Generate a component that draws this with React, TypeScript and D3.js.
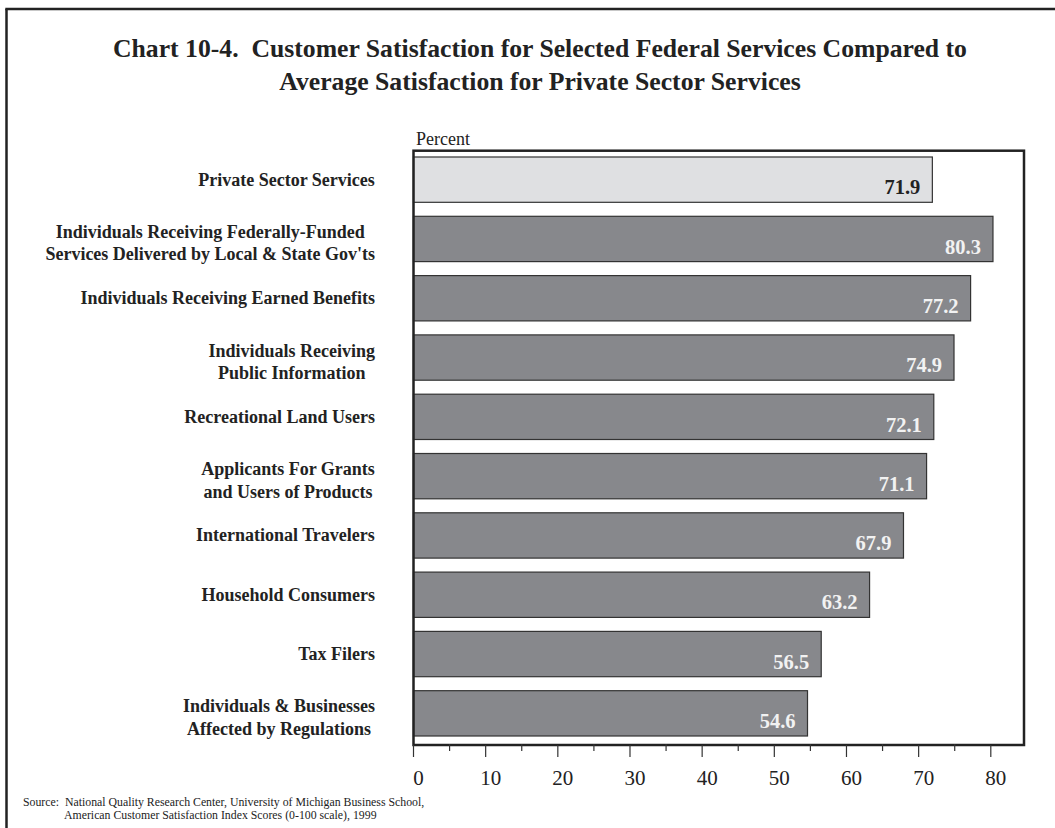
import React from "react";
import * as d3 from "d3";

const categories: string[][] = [
  ["Private Sector Services"],
  ["Individuals Receiving Federally-Funded", "Services Delivered by Local & State Gov'ts"],
  ["Individuals Receiving Earned Benefits"],
  ["Individuals Receiving", "Public Information"],
  ["Recreational Land Users"],
  ["Applicants For Grants", "and Users of Products"],
  ["International Travelers"],
  ["Household Consumers"],
  ["Tax Filers"],
  ["Individuals & Businesses", "Affected by Regulations"],
];
const values: number[] = [71.9, 80.3, 77.2, 74.9, 72.1, 71.1, 67.9, 63.2, 56.5, 54.6];
const highlight: boolean[] = [true, false, false, false, false, false, false, false, false, false];
const majorTicks: number[] = [0, 10, 20, 30, 40, 50, 60, 70, 80];
const minorTicks: number[] = [5, 15, 25, 35, 45, 55, 65, 75];
const titleLines: string[] = [
  "Chart 10-4.  Customer Satisfaction for Selected Federal Services Compared to",
  "Average Satisfaction for Private Sector Services",
];
const sourceLines: string[] = [
  "Source:  National Quality Research Center, University of Michigan Business School,",
  "American Customer Satisfaction Index Scores (0-100 scale), 1999",
];
const axisTitle = "Percent";

const W = 1055;
const H = 828;
const FONT = "'Liberation Serif', 'Times New Roman', serif";
const LABEL_SIZE = 18;

let ctx: CanvasRenderingContext2D | null = null;
function measure(text: string, font: string): number {
  if (!ctx) {
    const c = document.createElement("canvas");
    ctx = c.getContext("2d");
  }
  if (!ctx) return text.length * LABEL_SIZE * 0.48;
  ctx.font = font;
  return ctx.measureText(text).width;
}

export default function App() {
  const plotL = 413.5, plotR = 1024, plotT = 150.7, plotB = 745;
  const x = d3.scaleLinear().domain([0, 84.6]).range([plotL, plotR]);
  const ids = categories.map((_, i) => String(i));
  const y = d3.scaleBand<string>().domain(ids).range([157, 736]).paddingInner(0.236).paddingOuter(0);
  const labelRight = 375;
  const labelFont = `bold ${LABEL_SIZE}px 'Liberation Serif', 'Times New Roman', serif`;

  return (
    <svg width={W} height={H} style={{ position: "absolute", left: 0, top: 0, background: "#fff" }}>
      <rect x={0} y={0} width={W} height={H} fill="#fff" />
      {/* outer frame */}
      <line x1={6.5} y1={9} x2={6.5} y2={H} stroke="#222" strokeWidth={2.5} />
      <line x1={5.3} y1={9} x2={W} y2={9} stroke="#222" strokeWidth={2.5} />
      {/* title */}
      {titleLines.map((t, i) => (
        <text key={i} x={540} y={57 + i * 33} textAnchor="middle" fontFamily={FONT} fontWeight="bold"
          fontSize={25.7} fill="#222" style={{ whiteSpace: "pre" }}>{t}</text>
      ))}
      {/* axis title */}
      <text x={416} y={145} fontFamily={FONT} fontSize={18} fill="#222">{axisTitle}</text>
      {/* bars */}
      {values.map((v, i) => {
        const y0 = y(String(i))!;
        const bw = y.bandwidth();
        return (
          <g key={i}>
            <rect x={x(0)} y={y0} width={x(v) - x(0)} height={bw}
              fill={highlight[i] ? "#dfe0e2" : "#87888c"} stroke="#333" strokeWidth={1.2} />
            <text x={x(v) - 12} y={y0 + bw - 8} textAnchor="end" fontFamily={FONT} fontWeight="bold"
              fontSize={20.5} fill={highlight[i] ? "#222" : "#f2f2f2"}>{v.toFixed(1)}</text>
          </g>
        );
      })}
      {/* category labels */}
      {categories.map((lines, i) => {
        const cy = y(String(i))! + y.bandwidth() / 2;
        const blockW = Math.max(...lines.map((l) => measure(l, labelFont)));
        const cx = labelRight - blockW / 2;
        const base = lines.length === 1 ? cy + 6 : cy - 1;
        return (
          <g key={i}>
            {lines.map((l, j) => (
              <text key={j} x={cx} y={base + j * 22.5} textAnchor="middle" fontFamily={FONT}
                fontWeight="bold" fontSize={LABEL_SIZE} fill="#222">{l}</text>
            ))}
          </g>
        );
      })}
      {/* plot frame */}
      <rect x={plotL} y={plotT} width={plotR - plotL} height={plotB - plotT} fill="none" stroke="#222" strokeWidth={2.5} />
      {/* ticks */}
      {majorTicks.map((t) => (
        <g key={"M" + t}>
          <line x1={x(t)} x2={x(t)} y1={plotB} y2={plotB + 12} stroke="#333" strokeWidth={1.2} />
          <text x={x(t) + 5} y={785} textAnchor="middle" fontFamily={FONT} fontSize={21} fill="#222">{t}</text>
        </g>
      ))}
      {minorTicks.map((t) => (
        <line key={"m" + t} x1={x(t)} x2={x(t)} y1={plotB - 1} y2={plotB + 6} stroke="#333" strokeWidth={1.2} />
      ))}
      {/* source */}
      <text x={23} y={806} fontFamily={FONT} fontSize={11.8} fill="#222" style={{ whiteSpace: "pre" }}>{sourceLines[0]}</text>
      <text x={64} y={819} fontFamily={FONT} fontSize={11.8} fill="#222" style={{ whiteSpace: "pre" }}>{sourceLines[1]}</text>
    </svg>
  );
}
